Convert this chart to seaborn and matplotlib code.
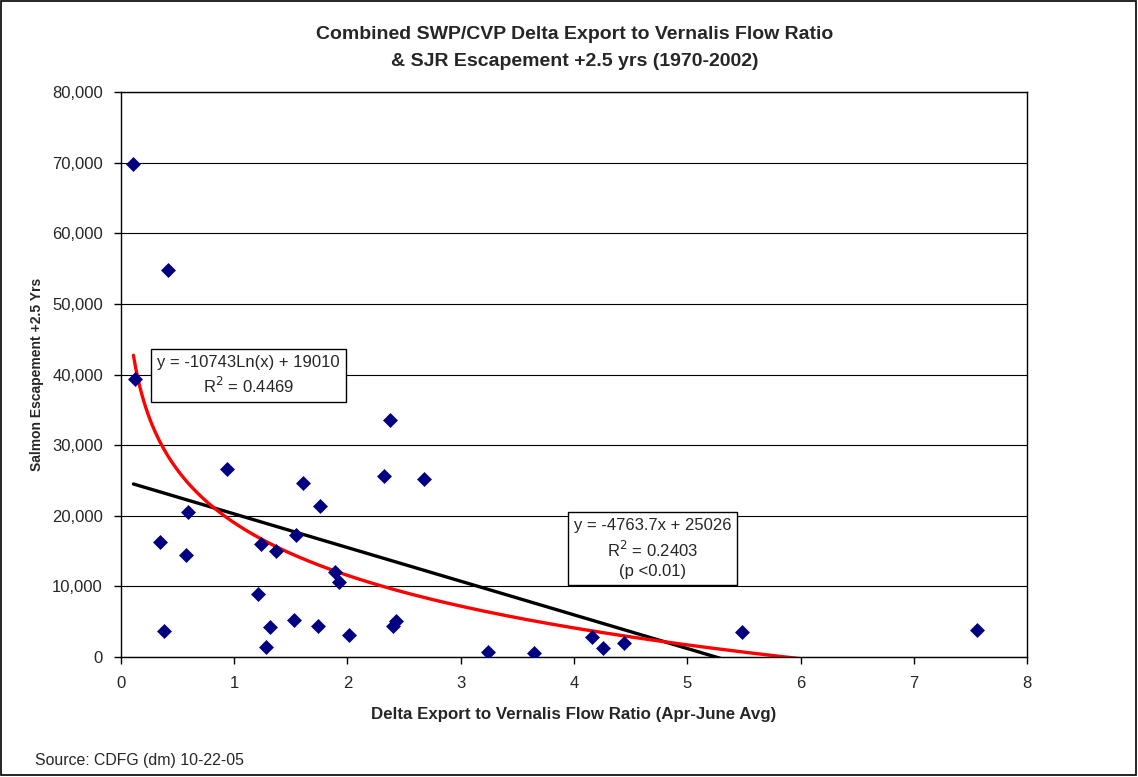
import numpy as np
import pandas as pd
import matplotlib
matplotlib.use("Agg")
import matplotlib.pyplot as plt
import seaborn as sns
from matplotlib.patches import Rectangle
from matplotlib.ticker import FuncFormatter

# export/flow ratio (Apr-June avg) and SJR escapement 2.5 yrs later
ratio = [0.11, 0.415, 0.12, 0.345, 0.383, 0.595, 0.571, 0.933, 1.21, 1.236, 1.278,
         1.316, 1.366, 1.528, 1.548, 1.607, 1.737, 1.757, 1.89, 1.922, 2.016, 2.325,
         2.375, 2.40, 2.43, 2.675, 3.24, 3.65, 4.16, 4.26, 4.44, 5.48, 7.56]
escapement = [69800, 54800, 39400, 16330, 3730, 20530, 14400, 26620, 8970, 16050, 1460,
              4200, 15060, 5190, 17230, 24600, 4390, 21380, 12080, 10670, 3160, 25630,
              33560, 4390, 5140, 25160, 720, 620, 2800, 1330, 2040, 3510, 3890]

# trendline coefficients as printed on the chart
lin_slope, lin_icpt = -4763.7, 25026
log_coef, log_icpt = -10743, 19010

df = pd.DataFrame({"ratio": ratio, "escapement": escapement})

sns.set_style("white")
plt.rcParams["font.family"] = ["Liberation Sans", "DejaVu Sans"]

fig = plt.figure(figsize=(11.38, 7.77), dpi=100)
ax = fig.add_axes([0.1063, 0.1544, 0.7962, 0.7272])

xs = np.linspace(df["ratio"].min(), df["ratio"].max(), 400)
ax.plot(xs, lin_slope * xs + lin_icpt, color="black", lw=2.4, zorder=2)
ax.plot(xs, log_coef * np.log(xs) + log_icpt, color="#ff0000", lw=2.4, zorder=2)

sns.scatterplot(data=df, x="ratio", y="escapement", marker="D", s=58,
                color="#000080", edgecolor="#000080", linewidth=0, ax=ax, zorder=3)

ax.set_xlim(0, 8)
ax.set_ylim(0, 80000)
ax.set_xticks(range(0, 9))
ax.set_yticks(range(0, 80001, 10000))
ax.yaxis.set_major_formatter(FuncFormatter(lambda v, p: f"{int(v):,}"))
ax.grid(axis="y", color="black", lw=0.8)
ax.grid(axis="x", visible=False)
ax.set_axisbelow(True)
for sp in ax.spines.values():
    sp.set_color("black")
    sp.set_linewidth(1.0)
ax.tick_params(axis="both", direction="out", length=5, width=1, color="black",
               labelsize=12, bottom=True, left=True)
ax.tick_params(axis="y", pad=8)
ax.tick_params(axis="x", pad=9)

ax.set_xlabel("Delta Export to Vernalis Flow Ratio (Apr-June Avg)",
              fontsize=12.2, fontweight="bold", labelpad=11)
ax.set_ylabel("Salmon Escapement +2.5 Yrs", fontsize=10, fontweight="bold", labelpad=6)

fig.text(0.505, 0.955, "Combined SWP/CVP Delta Export to Vernalis Flow Ratio",
         ha="center", va="center", fontsize=14, fontweight="bold")
fig.text(0.505, 0.9205, "& SJR Escapement +2.5 yrs (1970-2002)",
         ha="center", va="center", fontsize=14, fontweight="bold")

box = dict(boxstyle="square,pad=0.35", facecolor="white", edgecolor="black", lw=1)
ax.text(1.126, 39860, "y = -10743Ln(x) + 19010\nR$^2$ = 0.4469", ha="center", va="center",
        fontsize=12, bbox=box, linespacing=1.35, zorder=4)
ax.text(4.693, 15360, "y = -4763.7x + 25026\nR$^2$ = 0.2403\n(p <0.01)", ha="center",
        va="center", fontsize=12, bbox=box, linespacing=1.4, zorder=4)

fig.text(0.031, 0.012, "Source: CDFG (dm) 10-22-05", fontsize=11.4, ha="left", va="bottom")

fig.patches.append(Rectangle((0.0005, 0.002), 0.998, 0.997, transform=fig.transFigure,
                             fill=False, edgecolor="black", lw=1.2))

fig.savefig("out.png", dpi=100)
plt.close(fig)
